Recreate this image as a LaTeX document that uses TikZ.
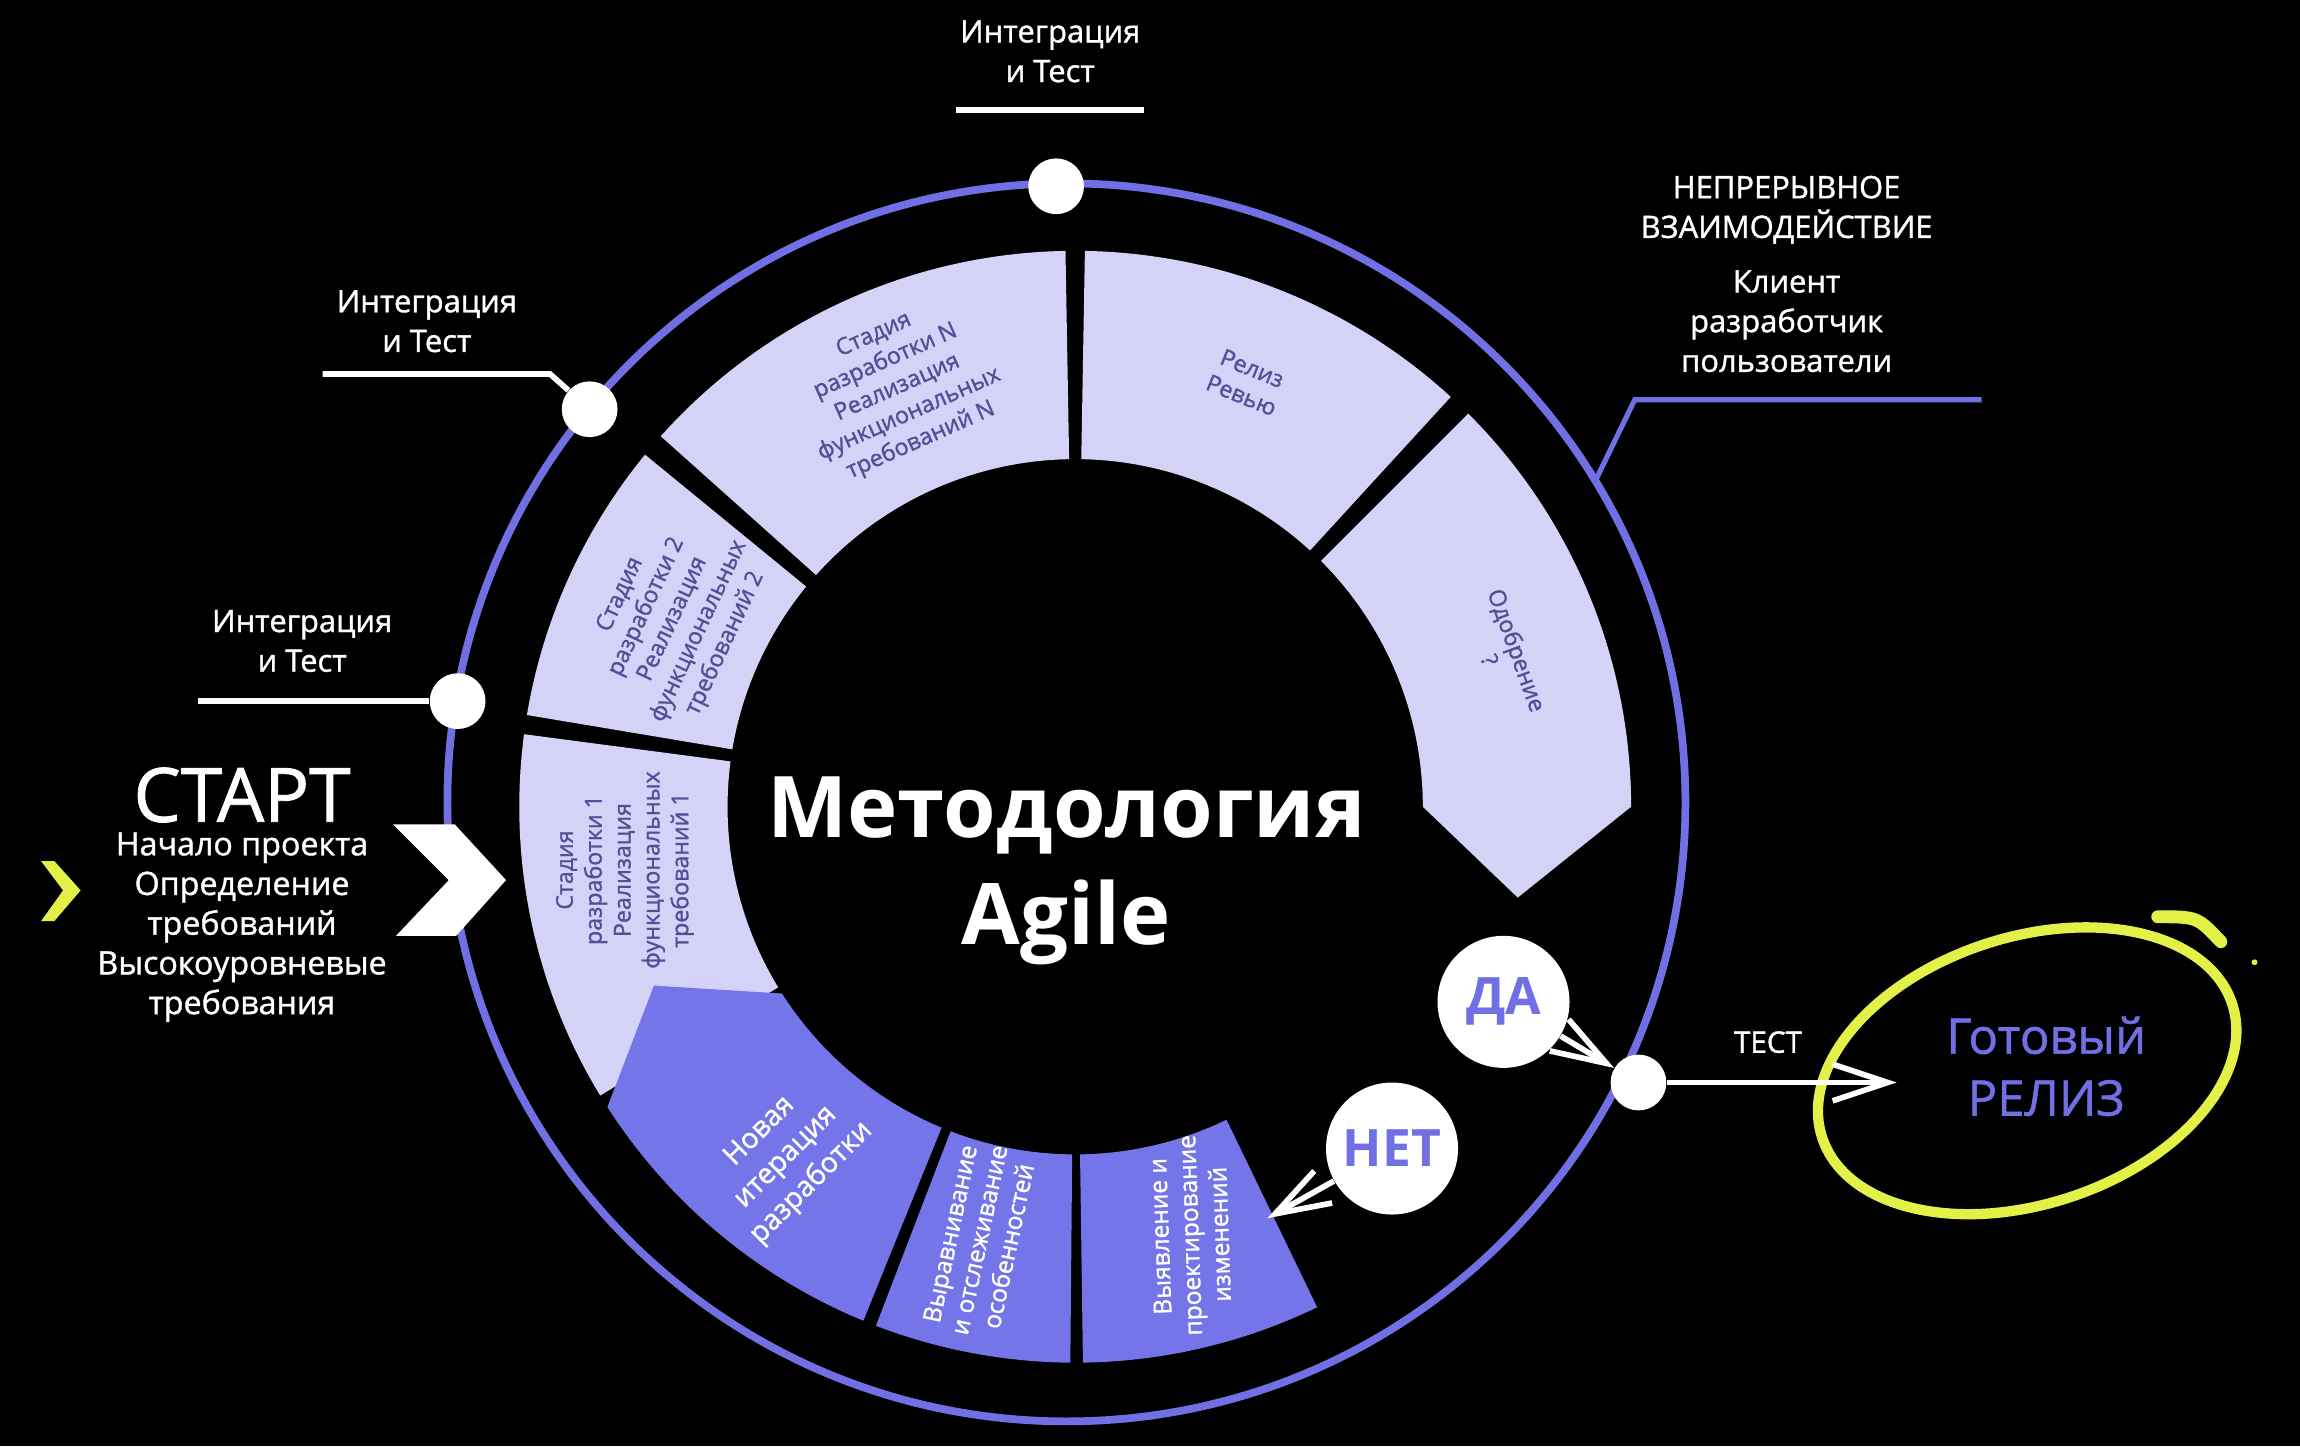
\documentclass[tikz,border=0pt]{standalone}
\usepackage{fontspec}
\setmainfont{Open Sans}
\newfontfamily\medium[FakeBold=1.2]{Open Sans}
\usepackage{xcolor}
\usepackage{tikz}
\usetikzlibrary{shapes.geometric, arrows.meta, positioning}

\definecolor{ringblue}{RGB}{112,112,228}
\definecolor{paleseg}{RGB}{213,210,248}
\definecolor{deepseg}{RGB}{115,117,232}
\definecolor{segink}{RGB}{80,80,152}
\definecolor{limey}{RGB}{226,240,72}

\begin{document}
\begin{tikzpicture}[
  paleblock/.style={fill=paleseg},
  deepblock/.style={fill=deepseg},
  segtext/.style={align=center, text=segink, font=\medium\fontsize{9}{11.2}\selectfont},
  wsegtext/.style={align=center, text=white, font=\medium\fontsize{9.5}{11.6}\selectfont},
  sidetext/.style={align=center, text=white, font=\medium\fontsize{12}{15.4}\selectfont},
  ringdot/.style={circle, fill=white, minimum size=0.76cm, inner sep=0pt},
  bubble/.style={circle, fill=white, minimum size=1.8cm, inner sep=0pt,
                 text=ringblue, font=\fontsize{20}{24}\selectfont\bfseries},
  wline/.style={white, line width=2.2pt},
  arrow/.style={-{Straight Barb[length=0.75cm, width=0.5cm]}, white, line width=2.2pt}
]
\fill[black] (-14.66,-8.72) rectangle (16.70,11.0);
\useasboundingbox (-14.66,-8.72) rectangle (16.70,11.0);

\draw[ringblue, line width=3pt] (-0.12,0.06) circle[radius=8.44];

\fill[paleblock] (91:4.74) arc[start angle=91, end angle=138.2, radius=4.74]
  -- (138.2:7.58) arc[start angle=138.2, end angle=91, radius=7.58] -- cycle;
\fill[paleblock] (47.5:4.74) arc[start angle=47.5, end angle=89, radius=4.74]
  -- (89:7.58) arc[start angle=89, end angle=47.5, radius=7.58] -- cycle;
\fill[paleblock] (0:4.74) -- (-11.6:6.16) -- (0:7.58) arc[start angle=0, end angle=45, radius=7.58]
  -- (45:4.74) arc[start angle=45, end angle=0, radius=4.74] -- cycle;
\fill[paleblock] (140.7:4.74) arc[start angle=140.7, end angle=170.5, radius=4.74]
  -- (170.5:7.58) arc[start angle=170.5, end angle=140.7, radius=7.58] -- cycle;
\fill[paleblock] (172.5:4.74) arc[start angle=172.5, end angle=211.3, radius=4.74]
  -- (211.3:7.58) arc[start angle=211.3, end angle=172.5, radius=7.58] -- cycle;
\fill[deepblock] (212.5:4.74) -- (203:6.24) -- (212.7:7.58) arc[start angle=212.7, end angle=247.6, radius=7.58]
  -- (247.4:4.74) arc[start angle=247.4, end angle=212.5, radius=4.74] -- cycle;
\fill[deepblock] (249:4.74) arc[start angle=249, end angle=269.5, radius=4.74]
  -- (269.5:7.58) arc[start angle=269.5, end angle=249, radius=7.58] -- cycle;
\fill[deepblock] (270.8:4.74) arc[start angle=270.8, end angle=295.8, radius=4.74]
  -- (295.8:7.58) arc[start angle=295.8, end angle=270.8, radius=7.58] -- cycle;

\node[segtext, rotate=24] (stn) at (113:6.2) {Стадия\\разработки N\\Реализация\\функциональных\\требований N};
\node[segtext, rotate=-22] (rev) at (68:6.25) {Релиз\\Ревью};
\node[segtext, rotate=-70] (appr) at (19.5:6.2) {Одобрение\\?};
\node[segtext, rotate=65] (st2) at (155:6.05) {Стадия\\разработки 2\\Реализация\\функциональных\\требований 2};
\node[segtext, rotate=90] (st1) at (188:6.2) {Стадия\\разработки 1\\Реализация\\функциональных\\требований 1};
\node[wsegtext, font=\medium\fontsize{11}{14.2}\selectfont, rotate=45] (newit) at (230.5:6.2) {Новая\\итерация\\разработки};
\node[wsegtext, rotate=78] (track) at (257.5:6.05) {Выравнивание\\и отслеживание\\особенностей};
\node[wsegtext, rotate=92] (change) at (285:6.05) {Выявление и\\проектирование\\изменений};

\node[align=center, text=white, font=\fontsize{33}{41.5}\selectfont\bfseries] (title) at (-0.12,-0.88) {Методология\\Agile};

\node[ringdot] (dtop)   at (-0.26,8.46) {};
\node[ringdot] (dtl)    at (-6.62,5.42) {};
\node[ringdot] (dleft)  at (-8.42,1.44) {};
\node[ringdot] (dright) at (7.68,-3.76) {};

\node[sidetext] (ittop) at (-0.34,10.3) {Интеграция\\и Тест};
\coordinate (ut1) at (-1.62,9.5);
\coordinate (ut2) at (0.94,9.5);
\draw[wline] (ut1) -- (ut2);

\node[sidetext] (ittl) at (-8.84,6.62) {Интеграция\\и Тест};
\coordinate (tl1) at (-10.26,5.9);
\coordinate (tl2) at (-7.16,5.9);
\draw[wline] (tl1) -- (tl2) -- (dtl);

\node[sidetext] (itleft) at (-10.54,2.26) {Интеграция\\и Тест};
\coordinate (lf1) at (-11.96,1.44);
\draw[wline] (lf1) -- (dleft);

\node[sidetext] (contin) at (9.7,8.14) {НЕПРЕРЫВНОЕ\\ВЗАИМОДЕЙСТВИЕ};
\node[sidetext] (roles) at (9.7,6.62) {Клиент\\разработчик\\пользователи};
\coordinate (pl1) at (12.36,5.55);
\coordinate (pl2) at (7.63,5.55);
\coordinate (pl3) at (7.11,4.48);
\draw[ringblue, line width=2pt] (pl1) -- (pl2) -- (pl3);

\node[text=white, font=\medium\fontsize{29}{33}\selectfont] (start) at (-11.36,0.16) {СТАРТ};
\node[sidetext, font=\medium\fontsize{12.5}{15.4}\selectfont] (startinfo) at (-11.36,-1.64)
  {Начало проекта\\Определение\\требований\\Высокоуровневые\\требования};
\fill[white] (-9.3,-0.24) -- (-8.46,-0.24) -- (-7.76,-1.0) -- (-8.44,-1.76) -- (-9.26,-1.76) -- (-8.54,-1.0) -- cycle;
\fill[limey] (-14.1,-0.74) -- (-13.92,-0.74) -- (-13.56,-1.14) -- (-13.92,-1.56) -- (-14.1,-1.56) -- (-13.8,-1.14) -- cycle;

\node[bubble] (yes) at (5.84,-2.66) {ДА};
\node[bubble] (no)  at (4.32,-4.66) {НЕТ};
\coordinate (notip) at (2.62,-5.61);
\draw[arrow] (no) -- (notip);
\draw[arrow] (yes) -- (dright);

\node[ellipse, draw=limey, line width=4pt, minimum width=5.88cm, minimum height=3.64cm,
      inner sep=0pt, rotate=18] (goal) at (12.98,-3.6) {};
\draw[limey, line width=5pt, line cap=round] (14.76,-1.5) .. controls (15.3,-1.5) .. (15.62,-1.84);
\fill[limey] (16.08,-2.12) circle[radius=0.04];
\node[align=center, text=ringblue, font=\medium\fontsize{19}{24}\selectfont] (ready) at (13.24,-3.54) {Готовый\\РЕЛИЗ};

\coordinate (testtip) at (11.2,-3.76);
\draw[arrow] (dright) -- node[pos=0.44, above=7pt, text=white, font=\medium\fontsize{11.5}{14}\selectfont] (testlbl) {ТЕСТ} (testtip);
\end{tikzpicture}
\end{document}
